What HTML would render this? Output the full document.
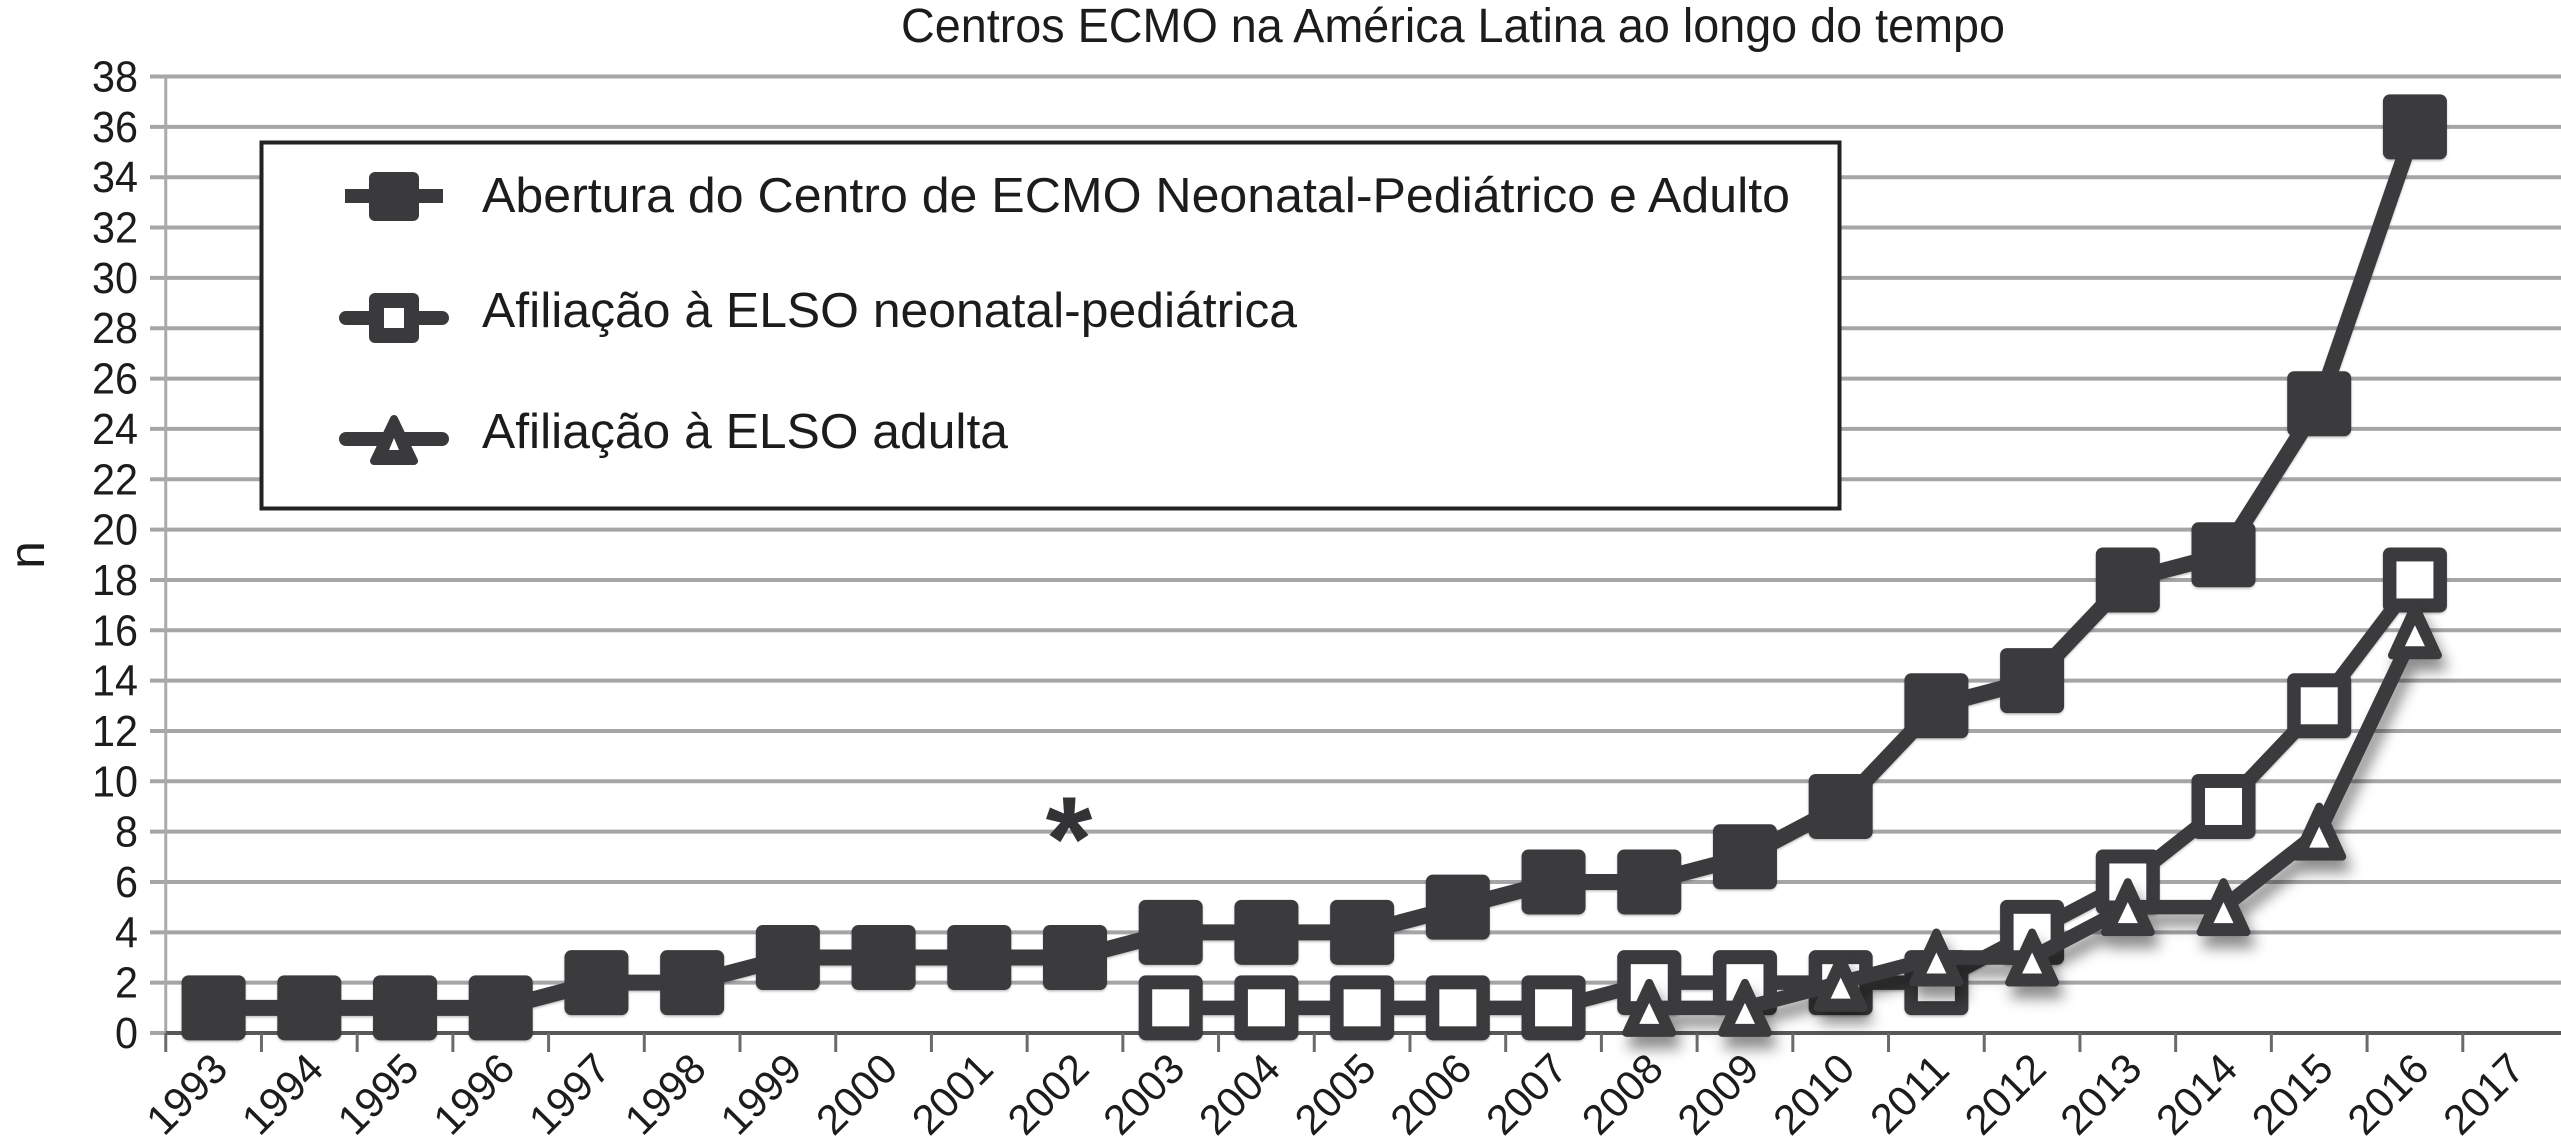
<!DOCTYPE html>
<html lang="pt">
<head>
<meta charset="utf-8">
<title>Centros ECMO na América Latina ao longo do tempo</title>
<style>
html,body{margin:0;padding:0;background:#fff;width:2561px;height:1144px;overflow:hidden}
svg{display:block}
text{font-family:"Liberation Sans",sans-serif;fill:#1c1c1e}
</style>
</head>
<body>
<svg id="chart" xmlns="http://www.w3.org/2000/svg" width="2561" height="1144" viewBox="0 0 2561 1144">
  <defs>
    <filter id="softShadow" x="-20%" y="-20%" width="140%" height="140%">
      <feDropShadow dx="5" dy="12" stdDeviation="7" flood-color="#000" flood-opacity="0.45"/>
    </filter>
    <filter id="lightShadow" x="-20%" y="-20%" width="140%" height="140%">
      <feDropShadow dx="0" dy="1.5" stdDeviation="1" flood-color="#000" flood-opacity="0.25"/>
    </filter>
  </defs>
  <g id="grid"></g>
  <g id="axes"></g>
  <g id="series"></g>
  <text x="901" y="42" font-size="48" textLength="1104" lengthAdjust="spacingAndGlyphs">Centros ECMO na América Latina ao longo do tempo</text>
  <text transform="translate(44,555) rotate(-90)" text-anchor="middle" font-size="50">n</text>
  <text x="1069" y="880" text-anchor="middle" font-size="120" font-weight="bold" style="fill:#333335">*</text>
  <g>
    <rect x="261.5" y="142.5" width="1578" height="366" fill="#fff" stroke="#222" stroke-width="4"/>
    <g>
      <rect x="345" y="189" width="98" height="14" fill="#3a3a3c"/>
      <rect x="369" y="172" width="50" height="49" rx="6" fill="#3a3a3c"/>
      <text x="482" y="212" font-size="49" textLength="1308" lengthAdjust="spacingAndGlyphs">Abertura do Centro de ECMO Neonatal-Pediátrico e Adulto</text>
    </g>
    <g>
      <line x1="346" y1="318" x2="442" y2="318" stroke="#3a3a3c" stroke-width="14" stroke-linecap="round"/>
      <rect x="369" y="293" width="50" height="50" rx="6" fill="#3a3a3c"/>
      <rect x="384" y="308" width="20" height="20" fill="#fff"/>
      <text x="482" y="327" font-size="49" textLength="815" lengthAdjust="spacingAndGlyphs">Afiliação à ELSO neonatal-pediátrica</text>
    </g>
    <g>
      <line x1="346" y1="439" x2="442" y2="439" stroke="#3a3a3c" stroke-width="14" stroke-linecap="round"/>
      <path d="M394 419 L414 461 L374 461 Z" fill="#3a3a3c" stroke="#3a3a3c" stroke-width="8" stroke-linejoin="round"/>
      <path d="M394 438 L399 450 L389 450 Z" fill="#fff"/>
      <text x="482" y="448" font-size="49" textLength="526" lengthAdjust="spacingAndGlyphs">Afiliação à ELSO adulta</text>
    </g>
  </g>
</svg>
<script>
const categories = ['1993','1994','1995','1996','1997','1998','1999','2000','2001','2002','2003','2004','2005','2006','2007','2008','2009','2010','2011','2012','2013','2014','2015','2016','2017'];
const yTicks = [0,2,4,6,8,10,12,14,16,18,20,22,24,26,28,30,32,34,36,38];
const centerOpenings = [1,1,1,1,2,2,3,3,3,3,4,4,4,5,6,6,7,9,13,14,18,19,25,36,null];
const neonatalAffiliation = [null,null,null,null,null,null,null,null,null,null,1,1,1,1,1,2,2,2,2,4,6,9,13,18,null];
const adultAffiliation = [null,null,null,null,null,null,null,null,null,null,null,null,null,null,null,1,1,2,3,3,5,5,8,16,null];

const NS = 'http://www.w3.org/2000/svg';
const plotLeft = 165.75, bandWidth = 95.71, plotBottom = 1033, unitHeight = 25.17, plotRight = 2561;
const INK = '#3a3a3c';
function xBand(i){ return plotLeft + i * bandWidth; }
function xCenter(i){ return xBand(i) + bandWidth / 2; }
function yScale(v){ return plotBottom - v * unitHeight; }
function make(tag, attrs, parent){
  const el = document.createElementNS(NS, tag);
  for (const k in attrs) el.setAttribute(k, attrs[k]);
  parent.appendChild(el);
  return el;
}
const grid = document.getElementById('grid');
const axes = document.getElementById('axes');
const seriesLayer = document.getElementById('series');

yTicks.forEach(function(t){
  const y = yScale(t);
  const line = make('line', {x1:150, x2:plotRight, y1:y, y2:y, stroke:'#a3a5a7', 'stroke-width':4}, grid);
  
  
  const text = String(t);
  const label = make('text', {x:138, y:y + 15, 'text-anchor':'end', 'font-size':44, textLength:text.length * 23, lengthAdjust:'spacingAndGlyphs'}, axes);
  label.textContent = text;
  
  
});

const yAxis = make('line', {x1:plotLeft, x2:plotLeft, y1:yScale(38), y2:plotBottom, stroke:'#a8aaac', 'stroke-width':3}, axes);


const xAxis = make('line', {x1:plotLeft, x2:plotRight, y1:plotBottom, y2:plotBottom, stroke:'#58585a', 'stroke-width':4}, axes);



categories.forEach(function(c, i){
  const tick = make('line', {x1:xBand(i), x2:xBand(i), y1:plotBottom, y2:1052, stroke:'#6a6a6c', 'stroke-width':3}, axes);
  
  
  const cx = xCenter(i) - 27;
  const label = make('text', {transform:'translate(' + cx + ',1094) rotate(-45)', 'text-anchor':'middle', 'dominant-baseline':'central', 'font-size':42}, axes);
  label.textContent = c;
  
  
});

function linePath(values){
  let d = '', pen = false;
  values.forEach(function(v, i){
    if (v === null) { pen = false; return; }
    d += (pen ? 'L' : 'M') + xCenter(i) + ' ' + yScale(v) + ' ';
    pen = true;
  });
  return d;
}

function drawSeries(name, values, markerKind, lineWidth, filterId){
  const g = make('g', filterId ? {filter:'url(#' + filterId + ')'} : {}, seriesLayer);
  
  
  const path = make('path', {d:linePath(values), fill:'none', stroke:INK, 'stroke-width':lineWidth, 'stroke-linejoin':'round'}, g);
  
  
  values.forEach(function(v, i){
    if (v === null) return;
    const cx = xCenter(i), cy = yScale(v);
    const m = make('g', {}, g);
    
    
    if (markerKind === 'filled') {
      make('rect', {x:cx - 32, y:cy - 32.5, width:64, height:65, rx:7, fill:INK}, m);
    } else if (markerKind === 'hollow') {
      make('rect', {x:cx - 32, y:cy - 32.5, width:64, height:65, rx:7, fill:INK}, m);
      make('rect', {x:cx - 18.5, y:cy - 18.5, width:37, height:37, fill:'#fff'}, m);
    } else {
      const outer = 'M' + cx + ' ' + (cy - 25) + ' L' + (cx + 23) + ' ' + (cy + 25) + ' L' + (cx - 23) + ' ' + (cy + 25) + ' Z';
      make('path', {d:outer, fill:INK, stroke:INK, 'stroke-width':8, 'stroke-linejoin':'round'}, m);
      const inner = 'M' + cx + ' ' + (cy - 5) + ' L' + (cx + 10) + ' ' + (cy + 16) + ' L' + (cx - 10) + ' ' + (cy + 16) + ' Z';
      make('path', {d:inner, fill:'#fff'}, m);
    }
  });
}

drawSeries('center-openings', centerOpenings, 'filled', 16, 'lightShadow');
drawSeries('neonatal-affiliation', neonatalAffiliation, 'hollow', 14.5, 'lightShadow');
drawSeries('adult-affiliation', adultAffiliation, 'triangle', 14.5, 'softShadow');
</script>
</body>
</html>
